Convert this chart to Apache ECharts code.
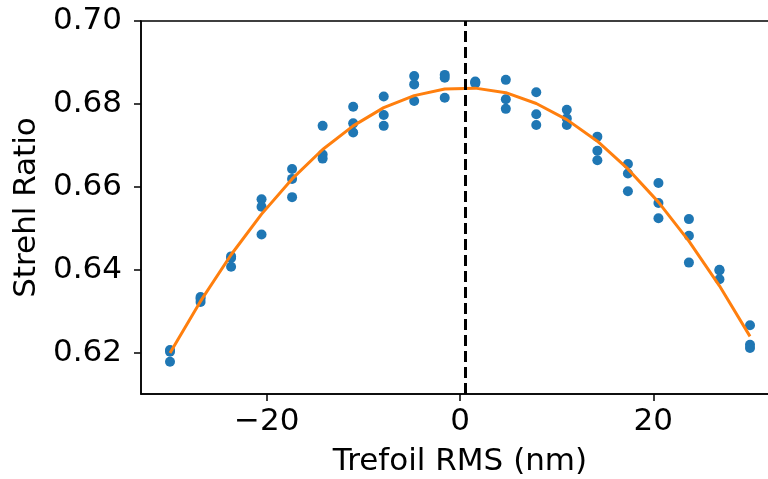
<!DOCTYPE html>
<html>
<head>
<meta charset="utf-8">
<script src="https://cdn.jsdelivr.net/npm/echarts@6/dist/echarts.min.js"></script>
<style>html,body{margin:0;padding:0;background:#fff}#c{width:768px;height:479px}</style>
</head>
<body>
<div id="c"></div>
<script>
const trefoilRms = [-30, -26.84, -23.68, -20.53, -17.37, -14.21, -11.05, -7.89, -4.74, -1.58, 1.58, 4.74, 7.89, 11.05, 14.21, 17.37, 20.53, 23.68, 26.84, 30];
const strehlTrial1 = [0.6206, 0.6334, 0.6432, 0.6570, 0.6643, 0.6747, 0.6793, 0.6818, 0.6867, 0.6870, 0.6854, 0.6858, 0.6828, 0.6786, 0.6721, 0.6655, 0.6609, 0.6522, 0.6400, 0.6266];
const strehlTrial2 = [0.6202, 0.6330, 0.6428, 0.6552, 0.6619, 0.6678, 0.6753, 0.6773, 0.6847, 0.6863, 0.6852, 0.6811, 0.6775, 0.6765, 0.6687, 0.6632, 0.6561, 0.6482, 0.6398, 0.6219];
const strehlTrial3 = [0.6178, 0.6322, 0.6407, 0.6485, 0.6575, 0.6668, 0.6731, 0.6747, 0.6807, 0.6815, 0.6849, 0.6788, 0.6749, 0.6749, 0.6664, 0.6589, 0.6524, 0.6417, 0.6377, 0.6211];
const strehlFit = [0.6199, 0.6324, 0.6436, 0.6534, 0.6619, 0.6690, 0.6747, 0.6791, 0.6820, 0.6836, 0.6838, 0.6827, 0.6801, 0.6762, 0.6710, 0.6643, 0.6563, 0.6469, 0.6361, 0.6239];
const peakX = 0.5;
const xTicks = [-20, 0, 20];
const yTicks = [0.62, 0.64, 0.66, 0.68, 0.70];

const scatterData = [];
[strehlTrial1, strehlTrial2, strehlTrial3].forEach(arr => {
  arr.forEach((v, i) => scatterData.push([trefoilRms[i], v]));
});
const fitData = trefoilRms.map((x, i) => [x, strehlFit[i]]);

const FONT = 'DejaVu Sans';
const chart = echarts.init(document.getElementById('c'), null, {renderer: 'canvas'});
chart.setOption({
  animation: false,
  grid: {left: 141, top: 21, width: 638, height: 373, outerBoundsMode: 'none', containLabel: false,
    show: true, borderColor: '#000', borderWidth: 1.5, backgroundColor: 'transparent'},
  xAxis: {
    type: 'value', min: -33, max: 33,
    name: 'Trefoil RMS (nm)', nameLocation: 'middle', nameGap: 52,
    nameTextStyle: {fontFamily: FONT, fontSize: 31, color: '#000'},
    axisLine: {show: true, onZero: false, lineStyle: {color: '#000', width: 1.5}},
    axisTick: {show: true, length: 7, inside: false, lineStyle: {color: '#000', width: 1.5}, customValues: xTicks},
    axisLabel: {show: true, margin: 12, fontFamily: FONT, fontSize: 31, color: '#000', customValues: xTicks,
      formatter: v => (v < 0 ? '\u2212' + Math.abs(v) : String(v))},
    splitLine: {show: false}
  },
  yAxis: {
    type: 'value', min: 0.61, max: 0.70,
    name: 'Strehl Ratio', nameLocation: 'middle', nameGap: 97,
    nameTextStyle: {fontFamily: FONT, fontSize: 31, color: '#000'},
    axisLine: {show: true, onZero: false, lineStyle: {color: '#000', width: 1.5}},
    axisTick: {show: true, length: 7, inside: false, lineStyle: {color: '#000', width: 1.5}, customValues: yTicks},
    axisLabel: {show: true, margin: 19, fontFamily: FONT, fontSize: 31, color: '#000', customValues: yTicks,
      formatter: v => Number(v).toFixed(2)},
    splitLine: {show: false}
  },
  series: [
    {
      type: 'scatter', data: scatterData, symbol: 'circle', symbolSize: 10,
      itemStyle: {color: '#1f77b4', opacity: 1}, z: 2
    },
    {
      type: 'line', data: fitData, showSymbol: false, symbol: 'none', smooth: false,
      lineStyle: {color: '#ff7f0e', width: 3}, z: 3,
      markLine: {
        silent: true, symbol: ['none', 'none'], label: {show: false},
        lineStyle: {color: '#000', width: 3, type: [11, 5]},
        data: [{xAxis: peakX}], z: 5
      }
    }
  ]
});
</script>
</body>
</html>
